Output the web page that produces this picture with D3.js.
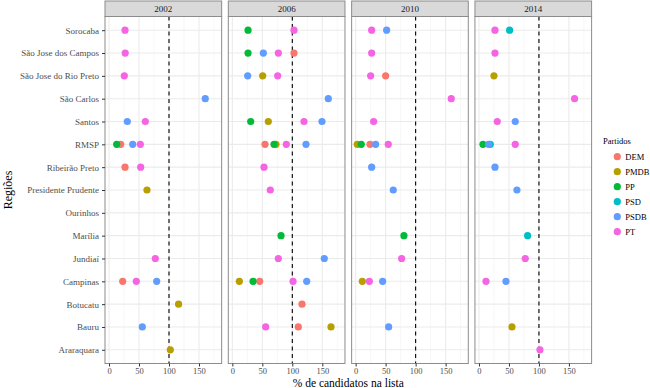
<!DOCTYPE html>
<html><head><meta charset="utf-8">
<script src="https://cdn.jsdelivr.net/npm/d3@7"></script>
<style>body{margin:0;background:#fff}svg{display:block}</style>
</head><body><svg id="c" width="650" height="388"></svg>
<script>
const anos = ["2002","2006","2010","2014"];
const regioes = ["Sorocaba","São Jose dos Campos","São Jose do Rio Preto","São Carlos","Santos","RMSP","Ribeirão Preto","Presidente Prudente","Ourinhos","Marília","Jundiaí","Campinas","Botucatu","Bauru","Araraquara"];
const partidos = ["DEM","PMDB","PP","PSD","PSDB","PT"];
const cores = ["#F8766D","#B79F00","#00BA38","#00BFC4","#619CFF","#F564E3"];
const xTicks = [0,50,100,150];
const linhaRef = 100;

// [região, partido, % de candidatos]
const dados2002 = [
 ["Sorocaba","PT",26.7],["São Jose dos Campos","PT",27],["São Jose do Rio Preto","PT",25.5],
 ["São Carlos","PSDB",160.5],["Santos","PSDB",30.5],["Santos","PT",60.5],
 ["RMSP","DEM",19.5],["RMSP","PP",12.8],["RMSP","PSDB",39.5],["RMSP","PT",52.2],
 ["Ribeirão Preto","DEM",26.7],["Ribeirão Preto","PT",52.8],["Presidente Prudente","PMDB",63.3],
 ["Jundiaí","PT",77.2],["Campinas","DEM",22.8],["Campinas","PT",45.5],["Campinas","PSDB",79.5],
 ["Botucatu","PMDB",116],["Bauru","PSDB",55.5],["Araraquara","PMDB",102.2]
];
const dados2006 = [
 ["Sorocaba","PP",26.2],["Sorocaba","PT",102.8],
 ["São Jose dos Campos","PP",26.2],["São Jose dos Campos","PSDB",51.7],["São Jose dos Campos","PT",76.7],["São Jose dos Campos","DEM",102.8],
 ["São Jose do Rio Preto","PSDB",25.6],["São Jose do Rio Preto","PMDB",50.6],["São Jose do Rio Preto","PT",75.6],
 ["São Carlos","PSDB",160],
 ["Santos","PP",30.6],["Santos","PMDB",60],["Santos","PT",119.5],["Santos","PSDB",149.5],
 ["RMSP","DEM",54.5],["RMSP","PP",69.5],["RMSP","PMDB",72.8],["RMSP","PT",90],["RMSP","PSDB",122.8],
 ["Ribeirão Preto","PT",52.8],["Presidente Prudente","PT",63.3],["Marília","PP",81.2],
 ["Jundiaí","PT",76.7],["Jundiaí","PSDB",153.3],
 ["Campinas","PMDB",11.7],["Campinas","PP",34.5],["Campinas","DEM",45.6],["Campinas","PT",101.2],["Campinas","PSDB",124],
 ["Botucatu","DEM",116.2],["Bauru","PT",55.6],["Bauru","DEM",110],["Bauru","PMDB",164.5]
];
const dados2010 = [
 ["Sorocaba","PT",26.7],["Sorocaba","PSDB",51.7],["São Jose dos Campos","PT",26.7],
 ["São Jose do Rio Preto","PT",25],["São Jose do Rio Preto","DEM",50],
 ["São Carlos","PT",159.4],["Santos","PT",30],
 ["RMSP","PMDB",2.7],["RMSP","PP",9.4],["RMSP","DEM",23.9],["RMSP","PSDB",33.3],["RMSP","PT",54.4],
 ["Ribeirão Preto","PSDB",26.7],["Presidente Prudente","PSDB",62.7],["Marília","PP",80.5],
 ["Jundiaí","PT",76.7],["Campinas","PMDB",11.1],["Campinas","PT",22.8],["Campinas","PSDB",45],
 ["Bauru","PSDB",55]
];
const dados2014 = [
 ["Sorocaba","PT",26.7],["Sorocaba","PSD",51.1],["São Jose dos Campos","PT",26.7],
 ["São Jose do Rio Preto","PMDB",25],["São Carlos","PT",159.4],
 ["Santos","PT",30.5],["Santos","PSDB",60.5],
 ["RMSP","PP",6.7],["RMSP","PSDB",16],["RMSP","PSD",18.9],["RMSP","PT",60.5],
 ["Ribeirão Preto","PSDB",26.7],["Presidente Prudente","PSDB",63.3],["Marília","PSD",81.1],
 ["Jundiaí","PT",77.2],["Campinas","PT",11.7],["Campinas","PSDB",45],
 ["Bauru","PMDB",55],["Araraquara","PT",101.7]
];
const dadosPorAno = {"2002":dados2002,"2006":dados2006,"2010":dados2010,"2014":dados2014};

const svg = d3.select("#c");
const font = "'Liberation Serif','DejaVu Serif',serif";
const L = 105, R = 591.6, T = 16.5, B = 363.5, stripTop = 1;

const fx = d3.scaleBand().domain(anos).range([L, R]).paddingInner(0.054);
const x = d3.scaleLinear().domain([-6.7, 187.8]).range([0, fx.bandwidth()]);
const y = d3.scalePoint().domain(regioes).range([T, B]).padding(0.6);
const cor = d3.scaleOrdinal().domain(partidos).range(cores);

anos.forEach((ano, i) => {
  const g = svg.append("g").attr("transform", `translate(${fx(ano)},0)`);
  const w = fx.bandwidth();
  g.append("rect").attr("x",0).attr("y",T).attr("width",w).attr("height",B-T).attr("fill","#fff");
  const minor = [25,75,125,175];
  g.selectAll(".mn").data(minor).join("line")
    .attr("x1",d=>x(d)).attr("x2",d=>x(d)).attr("y1",T).attr("y2",B)
    .attr("stroke","#F2F2F2").attr("stroke-width",0.6);
  g.selectAll(".mjx").data(xTicks).join("line")
    .attr("x1",d=>x(d)).attr("x2",d=>x(d)).attr("y1",T).attr("y2",B)
    .attr("stroke","#EBEBEB").attr("stroke-width",1.1);
  g.selectAll(".mjy").data(regioes).join("line")
    .attr("x1",0).attr("x2",w).attr("y1",d=>y(d)).attr("y2",d=>y(d))
    .attr("stroke","#EBEBEB").attr("stroke-width",1.1);
  g.append("line").attr("x1",x(linhaRef)).attr("x2",x(linhaRef)).attr("y1",T).attr("y2",B)
    .attr("stroke","#000").attr("stroke-width",1.1).attr("stroke-dasharray","4,3.5");
  const pts = dadosPorAno[ano].slice().sort((a,b)=>partidos.indexOf(a[1])-partidos.indexOf(b[1]));
  g.selectAll("circle").data(pts).join("circle")
    .attr("cx",d=>x(d[2])).attr("cy",d=>y(d[0])).attr("r",3.6)
    .attr("fill",d=>cor(d[1]));
  g.append("rect").attr("x",0).attr("y",T).attr("width",w).attr("height",B-T)
    .attr("fill","none").attr("stroke","#8C8C8C").attr("stroke-width",1);
  g.append("rect").attr("x",0).attr("y",stripTop).attr("width",w).attr("height",T-stripTop)
    .attr("fill","#D9D9D9").attr("stroke","#8C8C8C").attr("stroke-width",1);
  g.append("text").attr("x",w/2).attr("y",(stripTop+T)/2).attr("dy","0.35em")
    .attr("text-anchor","middle").attr("font-family",font).attr("font-size",9)
    .attr("fill","#1A1A1A").text(ano);
  const ax = g.append("g").attr("transform",`translate(0,${B})`)
    .call(d3.axisBottom(x).tickValues(xTicks).tickSize(3).tickPadding(1.5));
  ax.select(".domain").remove();
  ax.selectAll("line").attr("stroke","#333");
  ax.selectAll("text").attr("font-family",font).attr("font-size",8.5).attr("fill","#4D4D4D");
});

const ay = svg.append("g").attr("transform",`translate(${L},0)`)
  .call(d3.axisLeft(y).tickSize(3).tickPadding(3));
ay.select(".domain").remove();
ay.selectAll("line").attr("stroke","#333");
ay.selectAll("text").attr("font-family",font).attr("font-size",9).attr("fill","#4D4D4D");

svg.append("text").attr("x",(L+R)/2).attr("y",386.5).attr("text-anchor","middle")
  .attr("font-family",font).attr("font-size",11.5).attr("fill","#000").text("% de candidatos na lista");
svg.append("text").attr("transform",`translate(12,${(T+B)/2}) rotate(-90)`).attr("text-anchor","middle")
  .attr("font-family",font).attr("font-size",12).attr("fill","#000").text("Regiões");

const lg = svg.append("g");
lg.append("text").attr("x",603).attr("y",144).attr("font-family",font).attr("font-size",8.5)
  .attr("fill","#000").text("Partidos");
const it = lg.selectAll(".it").data(partidos).join("g")
  .attr("transform",(d,i)=>`translate(617.3,${156.7+i*15})`);
it.append("circle").attr("r",3.6).attr("fill",d=>cor(d));
it.append("text").attr("x",8).attr("dy","0.35em").attr("font-family",font).attr("font-size",8.5)
  .attr("fill","#000").text(d=>d);
</script></body></html>
